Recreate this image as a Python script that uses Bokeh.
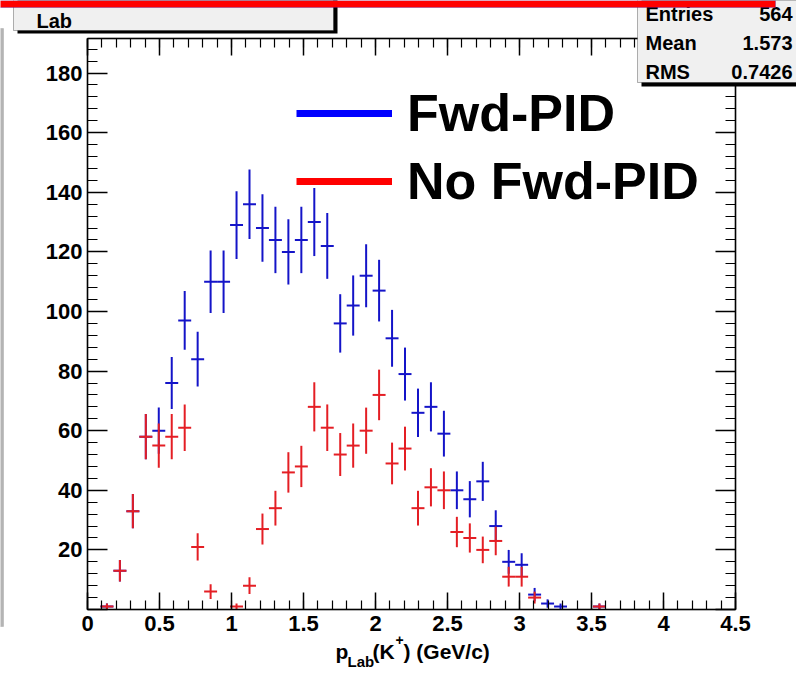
import math
from bokeh.plotting import figure
from bokeh.models import (ColumnDataSource, Range1d, LinearAxis, SingleIntervalTicker,
                          BoxAnnotation, Label, Legend, LegendItem, CustomJSTickFormatter)
from bokeh.embed import file_html
from bokeh.resources import INLINE

# ---------------- data ----------------
bin_width = 0.09
fwd_pid = [0, 1, 13, 33, 58, 60, 76, 97, 84, 110,
           110, 129, 136, 128, 124, 120, 124, 130, 122, 96,
           102, 112, 107, 91, 79, 66, 68, 59, 40, 37,
           43, 28, 16, 15, 5, 2, 1, 0, 0, 1,
           0, 0, 0, 0, 0, 0, 0, 0, 0, 0]
no_fwd_pid = [0, 1, 13, 33, 58, 55, 58, 61, 21, 6,
              0, 1, 8, 27, 34, 46, 48, 68, 61, 52,
              55, 60, 72, 49, 54, 34, 41, 40, 26, 24,
              20, 23, 11, 11, 4, 0, 0, 0, 0, 1,
              0, 0, 0, 0, 0, 0, 0, 0, 0, 0]
x_tick_values = [0, 0.5, 1, 1.5, 2, 2.5, 3, 3.5, 4, 4.5]
x_tick_labels = ["0", "0.5", "1", "1.5", "2", "2.5", "3", "3.5", "4", "4.5"]
legend_labels = ["Fwd-PID", "No Fwd-PID"]
stats_names = ["Entries", "Mean", "RMS"]
stats_values = ["564", "1.573", "0.7426"]
x_min, x_max = 0.0, 4.5
y_min, y_max = 0.0, 191.6

# ---------------- layout ----------------
W, H = 796, 673
SX, SY = W / 796.0, H / 673.0
# ROOT frame edges in reference pixels
RL, RR, RT, RB = 87.0, 735.0, 38.0, 609.0
cl, cr, ct, cb = RL * SX, RR * SX, RT * SY, RB * SY
ux = (x_max - x_min) / (cr - cl)
uy = (y_max - y_min) / (cb - ct)
X0 = x_min - cl * ux
X1 = x_max + (W - cr) * ux
Y0 = y_min - (H - cb) * uy
Y1 = y_max + ct * uy
FONT = "Liberation Sans"


def dx(X):
    return X0 + X * SX * ux


def dy(Y):
    return Y1 - Y * SY * uy


p = figure(width=W, height=H, x_range=Range1d(X0, X1), y_range=Range1d(Y0, Y1),
           output_backend="svg", toolbar_location=None, x_axis_location=None, y_axis_location=None,
           min_border=0, min_border_left=0, min_border_right=0, min_border_top=0, min_border_bottom=0,
           background_fill_color="white", border_fill_color="white")
p.grid.visible = False
p.outline_line_color = None


def make_axis(interval, bounds, loc, major, minor, labels=True):
    ax = LinearAxis(ticker=SingleIntervalTicker(interval=interval, num_minor_ticks=5),
                    bounds=bounds, fixed_location=loc)
    ax.major_tick_in = major
    ax.major_tick_out = 0
    ax.minor_tick_in = minor
    ax.minor_tick_out = 0
    ax.axis_line_color = "black"
    ax.axis_line_width = 1.5
    ax.major_tick_line_width = 1.5
    ax.minor_tick_line_width = 1.2
    ax.major_tick_line_color = "black"
    ax.minor_tick_line_color = "black"
    ax.major_label_text_font = FONT
    ax.major_label_text_font_style = "bold"
    ax.major_label_text_font_size = "22px"
    ax.major_label_text_color = "black"
    if not labels:
        ax.formatter = CustomJSTickFormatter(code="return ''")
        ax.major_label_standoff = 0
    return ax


xa = make_axis(0.5, (x_min, x_max), y_min, 17, 9)
xa.major_label_standoff = 6
xa.major_label_overrides = {v: t for v, t in zip(x_tick_values, x_tick_labels)}
p.add_layout(xa, "below")

ya = make_axis(20, (y_min, y_max), x_min, 20, 10)
ya.major_label_standoff = 5
ya.major_label_overrides = {0: ""}
p.add_layout(ya, "left")

p.add_layout(make_axis(0.5, (x_min, x_max), y_max, 17, 9, labels=False), "above")
p.add_layout(make_axis(20, (y_min, y_max), x_max, 20, 10, labels=False), "right")

# frame outline
p.add_layout(BoxAnnotation(left=x_min, right=x_max, bottom=y_min, top=y_max,
                           fill_alpha=0, line_color="black", line_width=1.5, level="underlay"))


# ---------------- error bars ----------------
def err_source(vals):
    d = dict(x=[], y=[], lo=[], hi=[], xl=[], xr=[])
    for k, v in enumerate(vals):
        if v > 0:
            c = x_min + (k + 0.5) * bin_width
            e = math.sqrt(v)
            d["x"].append(c)
            d["y"].append(v)
            d["lo"].append(max(v - e, y_min))
            d["hi"].append(min(v + e, y_max))
            d["xl"].append(c - bin_width / 2)
            d["xr"].append(c + bin_width / 2)
    return ColumnDataSource(d)


for vals, col in ((fwd_pid, "#1414c8"), (no_fwd_pid, "#e41e24")):
    src = err_source(vals)
    p.segment(x0="x", y0="lo", x1="x", y1="hi", source=src, line_color=col, line_width=2)
    p.segment(x0="xl", y0="y", x1="xr", y1="y", source=src, line_color=col, line_width=2)

# ---------------- legend ----------------
nan = float("nan")
leg_blue = p.line(x=[nan], y=[nan], line_color="#0000ff", line_width=7)
leg_red = p.line(x=[nan], y=[nan], line_color="#ff0000", line_width=7)
item_h = 68
leg_top = 113 * SY - item_h / 2
legend = Legend(items=[LegendItem(label=legend_labels[0], renderers=[leg_blue], index=0),
                       LegendItem(label=legend_labels[1], renderers=[leg_red], index=0)],
                location=(296 * SX, H - (leg_top + 2 * item_h)),
                orientation="vertical", padding=0, margin=0, spacing=0,
                glyph_width=96, glyph_height=item_h, label_height=item_h, label_standoff=15,
                label_text_font=FONT, label_text_font_style="bold", label_text_font_size="52px",
                label_text_color="black", background_fill_alpha=0, border_line_color=None)
p.add_layout(legend)

# ---------------- x axis title: p_Lab(K+) (GeV/c) ----------------
xt_parts = [("p", 335, 651, "21px"), ("Lab", 347, 661, "15px"), ("(K", 372, 651, "21px"),
            ("+", 395, 639, "14px"), (") (GeV/c)", 403, 651, "21px")]
for txt, X, Y, fs in xt_parts:
    p.add_layout(Label(x=dx(X), y=dy(Y), text=txt, text_font=FONT, text_font_style="bold",
                       text_font_size=fs, text_baseline="alphabetic", text_align="left",
                       text_color="black"))

# ---------------- title box (cut off at top of canvas) ----------------
p.add_layout(BoxAnnotation(left=dx(17), right=dx(337), top=dy(-10), bottom=dy(33),
                           fill_color="black", fill_alpha=1, line_alpha=0, level="overlay"))
p.add_layout(BoxAnnotation(left=dx(13), right=dx(333), top=dy(-10), bottom=dy(30),
                           fill_color="#f0f0f0", fill_alpha=1, line_color="black", line_width=1,
                           level="overlay"))
p.add_layout(Label(x=dx(36), y=dy(20), text="Lab", text_font=FONT, text_font_style="bold",
                   text_font_size="20px", text_baseline="alphabetic", text_align="left",
                   text_color="black", level="overlay"))

# ---------------- stats box ----------------
p.add_layout(BoxAnnotation(left=dx(641), right=dx(810), top=dy(-10), bottom=dy(86),
                           fill_color="black", fill_alpha=1, line_alpha=0, level="overlay"))
p.add_layout(BoxAnnotation(left=dx(637), right=dx(810), top=dy(-10), bottom=dy(82),
                           fill_color="#f0f0f0", fill_alpha=1, line_color="black", line_width=1,
                           level="overlay"))
for i, (nm, vl) in enumerate(zip(stats_names, stats_values)):
    Yc = 13 + 29 * i
    p.add_layout(Label(x=dx(645), y=dy(Yc), text=nm, text_font=FONT, text_font_style="bold",
                       text_font_size="20px", text_baseline="middle", text_align="left",
                       text_color="black", level="overlay"))
    p.add_layout(Label(x=dx(792), y=dy(Yc), text=vl, text_font=FONT, text_font_style="bold",
                       text_font_size="20px", text_baseline="middle", text_align="right",
                       text_color="black", level="overlay"))

# ---------------- neighbouring pad edge at left ----------------
p.add_layout(BoxAnnotation(left=dx(-2), right=dx(3), top=dy(28), bottom=dy(626),
                           fill_color="#b4b4b4", fill_alpha=1, line_color="#8a8a8a", line_width=1,
                           level="overlay"))

# ---------------- red bar at very top ----------------
p.add_layout(BoxAnnotation(left=dx(-5), right=dx(775), top=dy(0), bottom=dy(7),
                           fill_color="#ff0000", fill_alpha=1, line_color="#2020c0", line_width=1,
                           level="overlay"))

open("out.html", "w").write(file_html(p, INLINE))
